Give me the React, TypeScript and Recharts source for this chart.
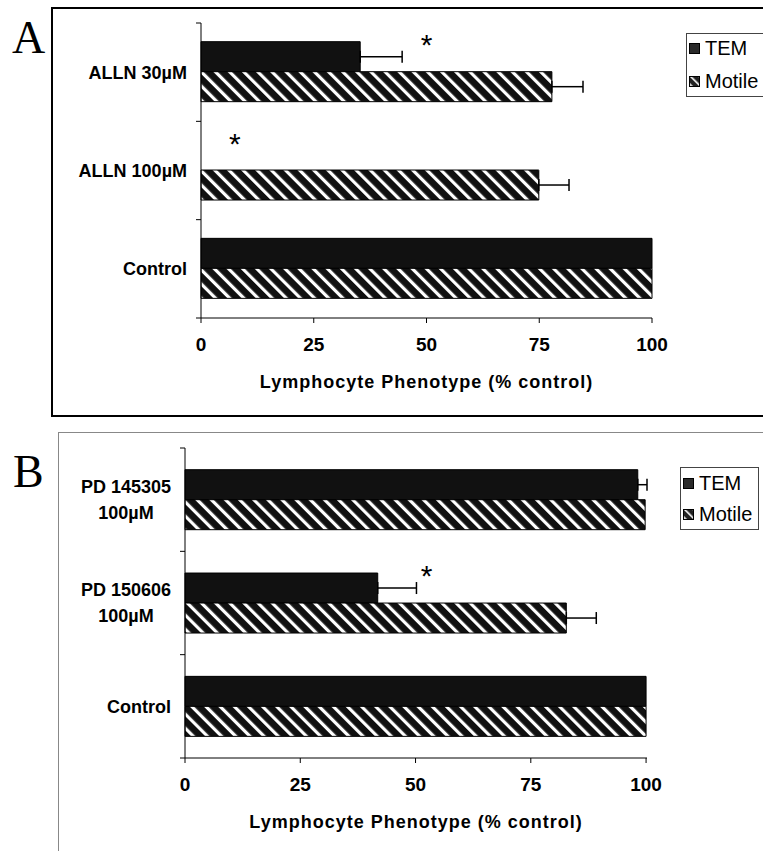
import React from 'react'
import { BarChart, Bar, XAxis, YAxis, ErrorBar, Legend, ReferenceDot } from 'recharts'

// panel A
const catsA = ['ALLN 30µM', 'ALLN 100µM', 'Control']
const temA = [35.3, 0, 100]
const temErrA = [9.3, null, null]
const motileA = [77.8, 74.9, 100]
const motileErrA = [6.9, 6.7, null]
const starsA = [{ cat: 'ALLN 30µM', x: 50 }, { cat: 'ALLN 100µM', x: 7.5 }]

// panel B
const catsB = ['PD 145305\n100µM', 'PD 150606\n100µM', 'Control']
const temB = [98.2, 41.8, 100]
const temErrB = [2.0, 8.4, null]
const motileB = [99.8, 82.7, 100]
const motileErrB = [null, 6.5, null]
const starsB = [{ cat: 'PD 150606\n100µM', x: 52.4 }]

const xTicks = [0, 25, 50, 75, 100]
const seriesOrder = ['tem', 'motile']
const AXIS_TITLE = 'Lymphocyte Phenotype (% control)'

const FONT = "'Liberation Sans', Arial, Helvetica, sans-serif"
const SERIF = "'Liberation Serif', 'Times New Roman', serif"

const buildRows = (cats: string[], tem: number[], temErr: (number | null)[], mot: number[], motErr: (number | null)[]) =>
  cats.map((name, i) => ({
    name,
    tem: tem[i],
    temErr: temErr[i] == null ? null : [0, temErr[i]],
    motile: mot[i],
    motileErr: motErr[i] == null ? null : [0, motErr[i]],
  }))

let measureCtx: CanvasRenderingContext2D | null = null
function textWidth(text: string, font: string) {
  if (!measureCtx && typeof document !== 'undefined') measureCtx = document.createElement('canvas').getContext('2d')
  if (!measureCtx) return text.length * 10
  measureCtx.font = font
  return measureCtx.measureText(text).width
}

// Excel-style category axis: ticks between bands, labels right aligned
function makeCategoryTick(count: number, fallbackHalf: number) {
  return (props: any) => {
    const { x, y, payload, index } = props
    const half = payload?.offset || fallbackHalf
    const lines = String(payload.value).split('\n')
    const right = x - 14
    const blockW = Math.max(...lines.map(l => textWidth(l, `bold 18px ${FONT}`)))
    const lineH = 26
    const y0 = y - ((lines.length - 1) * lineH) / 2
    return (
      <g>
        <line x1={x - 5} x2={x} y1={y - half} y2={y - half} stroke="#000" />
        {index === count - 1 && <line x1={x - 5} x2={x} y1={y + half} y2={y + half} stroke="#000" />}
        {lines.map((l, i) => (
          <text
            key={i}
            x={lines.length > 1 ? right - blockW / 2 : right}
            y={y0 + i * lineH}
            dy="0.36em"
            textAnchor={lines.length > 1 ? 'middle' : 'end'}
            fontFamily={FONT}
            fontSize={18}
            fontWeight={700}
            fill="#000"
          >
            {l}
          </text>
        ))}
      </g>
    )
  }
}

const Star = (p: any) => (
  <text x={p.cx} y={p.cy - 17} textAnchor="middle" fontFamily={FONT} fontSize={30} fill="#000">*</text>
)

function LegendBox({ payload, width, height, rowH, padTop, gap }: any) {
  const items = [...(payload || [])].sort((a: any, b: any) => seriesOrder.indexOf(a.dataKey) - seriesOrder.indexOf(b.dataKey))
  return (
    <div style={{
      width, height, boxSizing: 'border-box', border: '1px solid #444', background: '#fff',
      paddingTop: padTop, fontFamily: FONT, fontSize: 20, color: '#000'
    }}>
      {items.map((entry: any, i: number) => (
        <div key={i} style={{ display: 'flex', alignItems: 'center', height: rowH, marginTop: i ? gap : 0, whiteSpace: 'nowrap' }}>
          <svg width={11} height={11} style={{ marginLeft: 2, marginRight: 5 }}>
            <rect x={0.5} y={0.5} width={10} height={10}
              fill={entry.dataKey === 'tem' ? '#2a2a2a' : 'url(#hatchSmall)'} stroke="#000" />
          </svg>
          <span>{entry.value}</span>
        </div>
      ))}
    </div>
  )
}

interface PanelProps {
  rows: any[]
  stars: { cat: string, x: number }[]
  width: number
  height: number
  margin: { top: number, right: number, bottom: number, left: number }
  yWidth: number
  catGap: string
  legend: { left: number, top: number, width: number, height: number, padTop: number, gap: number }
}

function Panel({ rows, stars, width, height, margin, yWidth, catGap, legend }: PanelProps) {
  const plotH = height - margin.top - margin.bottom - 80
  return (
    <BarChart
      layout="vertical"
      width={width}
      height={height}
      data={rows}
      margin={margin}
      barCategoryGap={catGap}
      barGap={0}
      style={{ fontFamily: FONT }}
    >
      <XAxis
        type="number"
        domain={[0, 100]}
        ticks={xTicks}
        interval={0}
        height={80}
        tickSize={5}
        tickMargin={15}
        axisLine={{ stroke: '#000' }}
        tickLine={{ stroke: '#000' }}
        tick={{ fontSize: 19, fontWeight: 700, fill: '#000', fontFamily: FONT }}
        label={{
          value: AXIS_TITLE, position: 'insideTop', offset: 57,
          fontSize: 18, fontWeight: 700, fill: '#000', fontFamily: FONT, letterSpacing: 1
        }}
      />
      <YAxis
        type="category"
        dataKey="name"
        width={yWidth}
        interval={0}
        tickSize={0}
        tickMargin={0}
        axisLine={{ stroke: '#000' }}
        tickLine={false}
        tick={makeCategoryTick(rows.length, plotH / rows.length / 2)}
      />
      <Legend
        layout="vertical"
        align="center"
        verticalAlign="middle"
        wrapperStyle={{ left: legend.left, top: legend.top, width: legend.width }}
        content={(p: any) => (
          <LegendBox payload={p.payload} width={legend.width} height={legend.height}
            rowH={28} padTop={legend.padTop} gap={legend.gap} />
        )}
      />
      <Bar dataKey="tem" name="TEM" fill="#111" stroke="#000" strokeWidth={1} isAnimationActive={false}>
        <ErrorBar dataKey="temErr" direction="x" width={6} stroke="#000" strokeWidth={1.5} />
      </Bar>
      <Bar dataKey="motile" name="Motile" fill="url(#hatch)" stroke="#000" strokeWidth={1} isAnimationActive={false}>
        <ErrorBar dataKey="motileErr" direction="x" width={6} stroke="#000" strokeWidth={1.5} />
      </Bar>
      {stars.map((s, i) => (
        <ReferenceDot key={i} x={s.x} y={s.cat} r={3} shape={Star} ifOverflow="visible" />
      ))}
    </BarChart>
  )
}

export default function App() {
  const rowsA = buildRows(catsA, temA, temErrA, motileA, motileErrA)
  const rowsB = buildRows(catsB, temB, temErrB, motileB, motileErrB)
  return (
    <div style={{
      position: 'absolute', left: 0, top: 0, width: 763, height: 851,
      overflow: 'hidden', background: '#fff', fontFamily: FONT
    }}>
      <svg width={0} height={0} style={{ position: 'absolute' }}>
        <defs>
          <pattern id="hatch" patternUnits="userSpaceOnUse" width={10} height={10} patternTransform="rotate(-45)">
            <rect width={10} height={10} fill="#111" />
            <rect x={0} y={0} width={3.2} height={10} fill="#fff" />
          </pattern>
          <pattern id="hatchSmall" patternUnits="userSpaceOnUse" width={6} height={6} patternTransform="rotate(-45)">
            <rect width={6} height={6} fill="#222" />
            <rect x={0} y={0} width={1.6} height={6} fill="#fff" />
          </pattern>
        </defs>
      </svg>

      <div style={{ position: 'absolute', left: 51, top: 7, width: 760, height: 406, border: '2px solid #000' }} />
      <div style={{ position: 'absolute', left: 58, top: 432, width: 760, height: 460, border: '1px solid #888' }} />

      <div style={{ position: 'absolute', left: 0, top: 0 }}>
        <Panel
          rows={rowsA}
          stars={starsA}
          width={763}
          height={417}
          margin={{ top: 23, right: 111, bottom: 19, left: 51 }}
          yWidth={150}
          catGap="19%"
          legend={{ left: 686, top: 33, width: 95, height: 64, padTop: 0, gap: 5 }}
        />
      </div>
      <div style={{ position: 'absolute', left: 0, top: 432 }}>
        <Panel
          rows={rowsB}
          stars={starsB}
          width={763}
          height={419}
          margin={{ top: 16, right: 116, bottom: 13, left: 58 }}
          yWidth={127}
          catGap="21%"
          legend={{ left: 680, top: 35, width: 79, height: 63, padTop: 1, gap: 3 }}
        />
      </div>

      <svg width={763} height={851} style={{ position: 'absolute', left: 0, top: 0, pointerEvents: 'none' }}>
        <text x={12} y={53} fontFamily={SERIF} fontSize={46} fill="#000">A</text>
        <text x={13} y={487} fontFamily={SERIF} fontSize={46} fill="#000">B</text>
      </svg>
    </div>
  )
}
